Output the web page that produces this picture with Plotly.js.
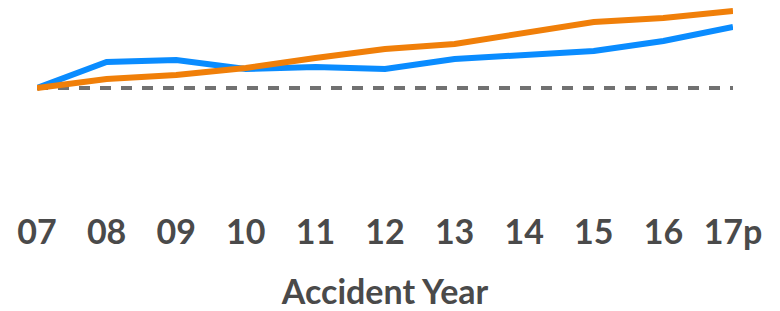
<!DOCTYPE html>
<html>
<head>
<meta charset="utf-8">
<script src="https://cdn.plot.ly/plotly-3.0.1.min.js"></script>
<style>
  html, body { margin: 0; padding: 0; background: #ffffff; }
  #chart { width: 780px; height: 311px; }
</style>
</head>
<body>
<div id="chart"></div>
<script>
// Accident years (x categories)
const years = ["07", "08", "09", "10", "11", "12", "13", "14", "15", "16", "17p"];
// Blue series (relative index, 07 = 1.00)
const blueSeries = [1.00, 1.26, 1.28, 1.19, 1.21, 1.19, 1.29, 1.33, 1.37, 1.47, 1.61];
// Orange series (relative index, 07 = 1.00)
const orangeSeries = [1.00, 1.09, 1.13, 1.20, 1.30, 1.39, 1.44, 1.55, 1.66, 1.70, 1.77];
// Dashed reference level
const baselineLevel = 1.00;
const baseline = years.map(() => baselineLevel);

const textColor = "#4a4a4a";
const font = "Lato, 'Open Sans', sans-serif";

const traces = [
  {
    x: years, y: baseline, type: "scatter", mode: "lines",
    line: { color: "#717171", width: 4, dash: "11px,10px" },
    hoverinfo: "skip", showlegend: false
  },
  {
    x: years, y: blueSeries, type: "scatter", mode: "lines",
    line: { color: "#0A8CFF", width: 6 },
    showlegend: false
  },
  {
    x: years, y: orangeSeries, type: "scatter", mode: "lines",
    line: { color: "#F07F09", width: 6 },
    showlegend: false
  }
];

const layout = {
  width: 780, height: 311,
  margin: { l: 37, r: 47, t: 0, b: 110, pad: 0 },
  paper_bgcolor: "#ffffff",
  plot_bgcolor: "#ffffff",
  showlegend: false,
  xaxis: {
    type: "category",
    range: [0, 10],
    showgrid: false, zeroline: false, showline: false,
    ticks: "",
    ticklabelstandoff: 8,
    tickfont: { family: font, size: 34, color: textColor, weight: "bold" },
    title: {
      text: "Accident Year",
      font: { family: font, size: 34, color: textColor, weight: "bold" },
      standoff: 33
    },
    fixedrange: true
  },
  yaxis: {
    range: [-0.13, 1.88],
    visible: false,
    showgrid: false, zeroline: false,
    fixedrange: true
  }
};

Plotly.newPlot("chart", traces, layout, { displayModeBar: false, staticPlot: true });
</script>
</body>
</html>
